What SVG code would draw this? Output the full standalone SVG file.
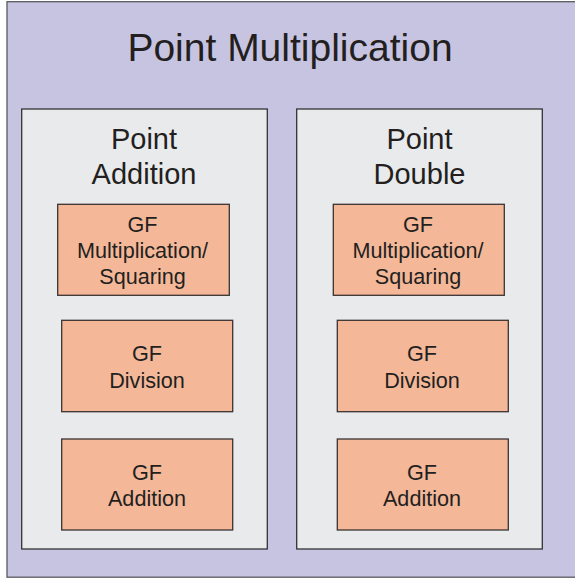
<svg xmlns="http://www.w3.org/2000/svg" width="575" height="580" viewBox="0 0 575 580">
  <style>
    .outer { fill: #c7c4e1; stroke: #5a5a5e; stroke-width: 1.3; }
    .panel { fill: #e9eaec; stroke: #333336; stroke-width: 1.3; }
    .gf { fill: #f4b899; stroke: #3a3333; stroke-width: 1.3; }
    text { font-family: "Liberation Sans", Arial, sans-serif; fill: #231f20; text-anchor: middle; }
    .title { font-size: 39px; }
    .sub { font-size: 29px; }
    .lbl { font-size: 21.6px; }
  </style>

  <!-- top-level container -->
  <g id="point-multiplication">
    <rect class="outer" x="7" y="1.7" width="570" height="575.5"/>
    <text class="title" x="290" y="61">Point Multiplication</text>
  </g>

  <!-- left column -->
  <g id="point-addition">
    <rect class="panel" x="21.7" y="109" width="245.6" height="440"/>
    <text class="sub" x="144" y="149">Point</text>
    <text class="sub" x="144" y="184">Addition</text>
  </g>
  <g id="pa-gf-mult">
    <rect class="gf" x="57.7" y="204.3" width="171.6" height="91"/>
    <text class="lbl" x="142.5" y="232.3">GF</text>
    <text class="lbl" x="142.5" y="258.3">Multiplication/</text>
    <text class="lbl" x="142.5" y="284.3">Squaring</text>
  </g>
  <g id="pa-gf-div">
    <rect class="gf" x="61.7" y="320.3" width="171" height="91.4"/>
    <text class="lbl" x="147" y="361">GF</text>
    <text class="lbl" x="147" y="387.5">Division</text>
  </g>
  <g id="pa-gf-add">
    <rect class="gf" x="61.7" y="439" width="171" height="91"/>
    <text class="lbl" x="147" y="480">GF</text>
    <text class="lbl" x="147" y="506">Addition</text>
  </g>

  <!-- right column -->
  <g id="point-double">
    <rect class="panel" x="296.7" y="109" width="245.6" height="440"/>
    <text class="sub" x="419.5" y="149">Point</text>
    <text class="sub" x="419.5" y="184">Double</text>
  </g>
  <g id="pd-gf-mult">
    <rect class="gf" x="333.3" y="204.3" width="171" height="91"/>
    <text class="lbl" x="418" y="232.3">GF</text>
    <text class="lbl" x="418" y="258.3">Multiplication/</text>
    <text class="lbl" x="418" y="284.3">Squaring</text>
  </g>
  <g id="pd-gf-div">
    <rect class="gf" x="337.3" y="320.3" width="171" height="91.4"/>
    <text class="lbl" x="422" y="361">GF</text>
    <text class="lbl" x="422" y="387.5">Division</text>
  </g>
  <g id="pd-gf-add">
    <rect class="gf" x="337.3" y="439" width="171" height="91"/>
    <text class="lbl" x="422" y="480">GF</text>
    <text class="lbl" x="422" y="506">Addition</text>
  </g>

  <!-- no connectors in this layout -->
  <g id="connectors"/>
</svg>
